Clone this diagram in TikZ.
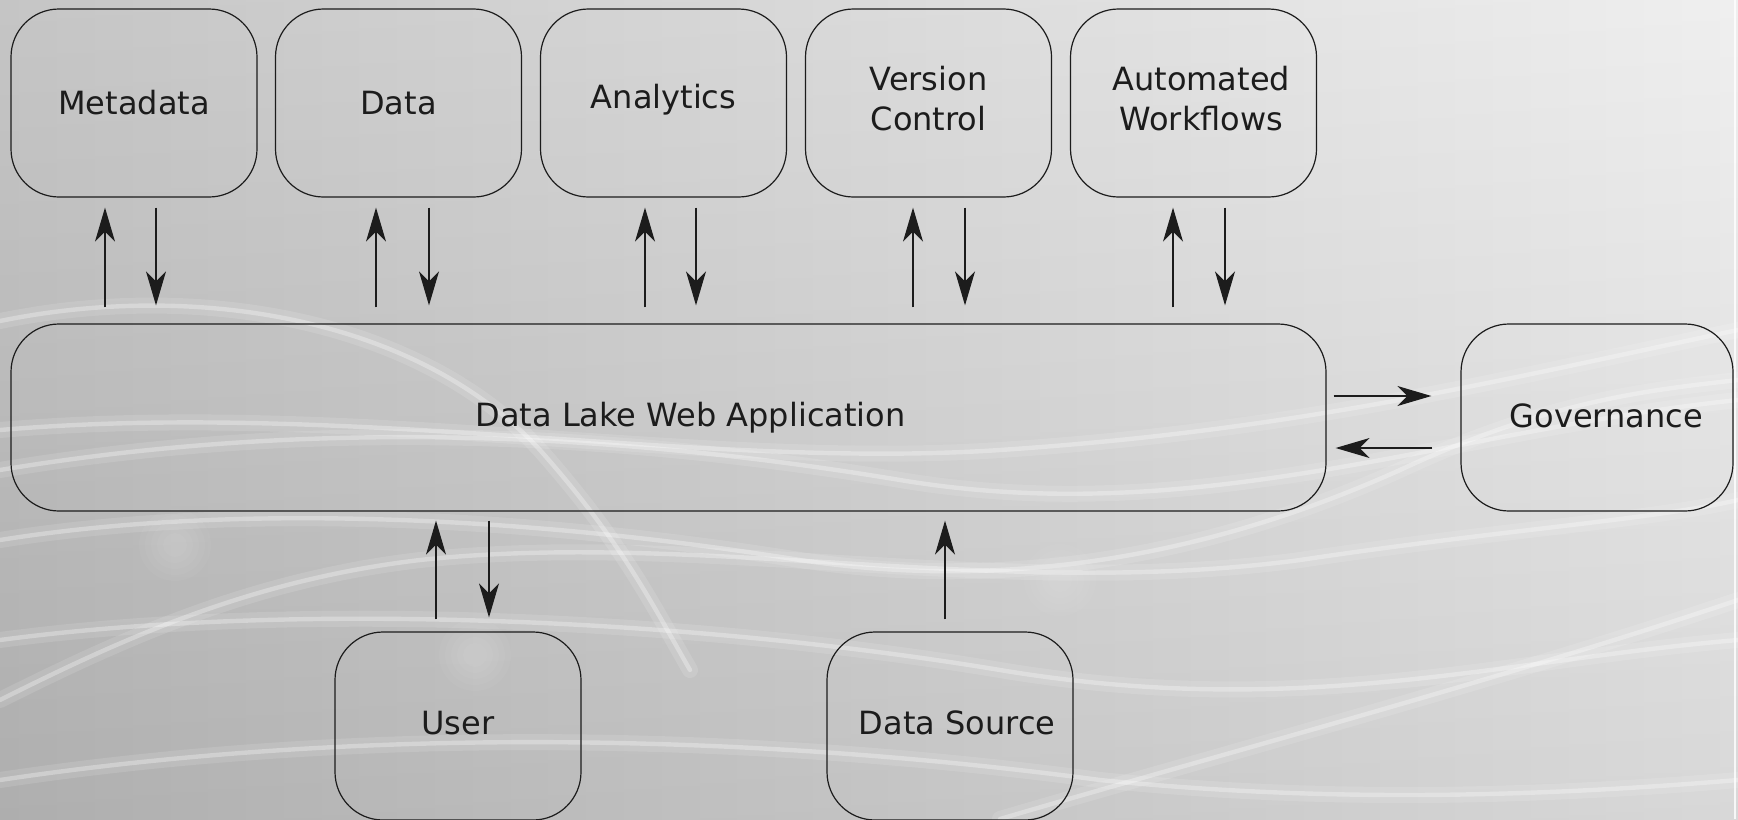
\documentclass[tikz,border=0pt]{standalone}
\usepackage{fontspec}
\setmainfont{DejaVu Sans}
\usetikzlibrary{arrows.meta}

\definecolor{bgleft}{RGB}{192,192,192}
\definecolor{bgright}{RGB}{238,238,238}
\definecolor{inkc}{RGB}{28,28,28}

\begin{document}
\begin{tikzpicture}[x=0.5pt,y=-0.5pt,
  box/.style={draw=inkc, line width=0.6pt, rounded corners=24pt,
    minimum width=123pt, minimum height=94pt, align=center, inner sep=0pt,
    font=\fontsize{16pt}{20pt}\selectfont, text=inkc},
  arr/.style={draw=inkc, line width=0.6pt,
    -{Stealth[length=17pt,width=10pt,inset=5pt]}},
  swoosh/.style={white, line cap=round, opacity=0.3, line width=2.2pt},
  halo/.style={white, line cap=round, opacity=0.12, line width=8pt}
]
\useasboundingbox (0,0) rectangle (1738,819);

% backdrop: grey gradient with soft light trails
\shade[left color=bgleft, right color=bgright] (0,0) rectangle (1738,819);
\shade[top color=white, bottom color=black, fill opacity=0.09] (0,0) rectangle (1738,819);

\foreach \st in {halo,swoosh}{
  \draw[\st] (0,321) .. controls (200,280) and (420,320) .. (540,450)
                     .. controls (620,540) and (650,600) .. (690,670);
  \draw[\st] (0,470) .. controls (300,420) and (600,430) .. (900,480)
                     .. controls (1200,530) and (1450,430) .. (1738,400);
  \draw[\st] (0,430) .. controls (350,400) and (700,470) .. (1000,450)
                     .. controls (1300,430) and (1500,380) .. (1738,330);
  \draw[\st] (0,640) .. controls (300,600) and (700,620) .. (1000,670)
                     .. controls (1300,720) and (1500,660) .. (1738,640);
  \draw[\st] (0,700) .. controls (120,640) and (250,580) .. (420,560)
                     .. controls (700,530) and (1000,600) .. (1300,560)
                     .. controls (1500,530) and (1650,520) .. (1738,500);
  \draw[\st] (0,780) .. controls (400,720) and (800,740) .. (1100,780)
                     .. controls (1300,800) and (1500,800) .. (1738,780);
  \draw[\st] (1000,819) .. controls (1200,760) and (1500,680) .. (1738,600);
  \draw[\st] (0,540) .. controls (250,500) and (550,520) .. (800,560)
                     .. controls (1000,590) and (1200,560) .. (1400,470)
                     .. controls (1550,400) and (1650,390) .. (1738,380);
}
% faint light spots, built from stacked translucent discs
\foreach \cx/\cy in {175/545, 475/655, 1060/580}{
  \foreach \r in {18,15,12,9,6}{
    \fill[white, opacity=0.035] (\cx,\cy) circle (\r pt);
  }
}
\draw[white, opacity=0.8, line width=1pt] (1735,0) -- (1735,819);

% components
\node[box] (meta) at (134,103) {Metadata};
\node[box] (data) at (398.5,103) {Data};
\node[box, text depth=7.1pt] (ana) at (663.5,103) {Analytics};
\node[box, text depth=4.4pt] (ver) at (928.5,103) {Version\\Control};
\node[box, text depth=4.4pt] (auto) at (1193.5,103)
  {\hspace*{7.8pt}Automated\\\hspace*{7.8pt}Workflows};
\node[box, minimum width=657.5pt, minimum height=93.5pt] (main) at (668.5,417.5)
  {\hspace*{22pt}Data Lake Web Application};
\node[box, minimum width=136pt, minimum height=93.5pt, text depth=2pt] (gov)
  at (1597,417.5) {\hspace*{9.4pt}Governance};
\node[box, text depth=3.4pt] (user) at (458,726) {User};
\node[box, text depth=3.4pt] (dsrc) at (950,726) {\hspace*{7pt}Data Source};

% links between the application and the upper components
\foreach \n/\u/\d in {meta/105/156, data/376/429, ana/645/696, ver/913/965, auto/1173/1225}{
  \draw[arr, shorten <=8pt, shorten >=5pt] (main.north -| \u,0) -- (\n.south -| \u,0);
  \draw[arr, shorten <=5pt, shorten >=9pt] (\n.south -| \d,0) -- (main.north -| \d,0);
}

% links with governance
\draw[arr, shorten <=3.5pt, shorten >=14.5pt] (main.east |- 0,396) -- (gov.west |- 0,396);
\draw[arr, shorten <=14pt, shorten >=4.5pt] (gov.west |- 0,448) -- (main.east |- 0,448);

% links with the lower components
\draw[arr, shorten <=6pt, shorten >=4.5pt] (user.north -| 436,0) -- (main.south -| 436,0);
\draw[arr, shorten <=4.5pt, shorten >=7pt] (main.south -| 489,0) -- (user.north -| 489,0);
\draw[arr, shorten <=6pt, shorten >=4.5pt] (dsrc.north -| 945,0) -- (main.south -| 945,0);
\end{tikzpicture}
\end{document}
